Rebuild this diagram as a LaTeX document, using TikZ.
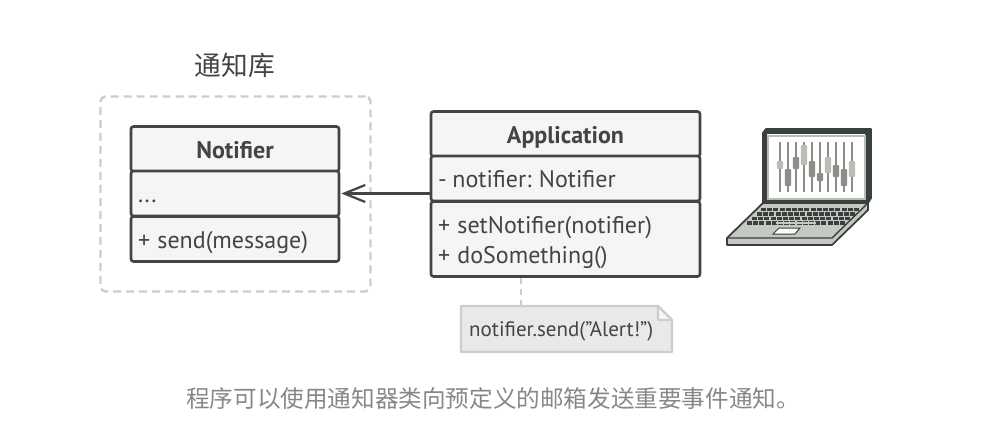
\documentclass[tikz,border=0pt]{standalone}
\usepackage{fontspec}
\setmainfont{PT Sans}[Ligatures=Common]
\newfontfamily\cjk{Noto Sans CJK SC}
\usetikzlibrary{arrows.meta}
\frenchspacing

\definecolor{ink}{HTML}{444444}
\definecolor{paper}{HTML}{F5F5F5}
\definecolor{soft}{HTML}{CCCCCC}
\definecolor{notefill}{HTML}{E9E9E9}
\definecolor{lapink}{HTML}{3A403E}
\definecolor{lapbody}{HTML}{C6C9C2}
\definecolor{slidedark}{HTML}{8A8D88}
\definecolor{slidelight}{HTML}{B9BDB5}

\newcommand{\linestrut}{\rule[-6pt]{0pt}{30pt}}

\tikzset{
    field/.style={draw=ink, fill=paper, line width=2.6pt, rounded corners=2.5pt, text=ink,
        font=\fontsize{24}{30}\selectfont, inner xsep=7pt, inner ysep=0pt, text width=#1,
        minimum height=45pt, align=left, execute at begin node={\spaceskip=7.3pt\relax\linestrut}},
    title/.style={field=#1, align=center, font=\fontsize{24}{30}\selectfont\bfseries},
    laptop/.style={draw=lapink, line width=1.8pt, line join=round}
}

\begin{document}
\begin{tikzpicture}[x=1pt, y=-1pt]
    \useasboundingbox (0,0) rectangle (982,436);

    % library frame
    \node[text=ink, font=\cjk\fontsize{26.7}{30}\selectfont] (libname) at (235,65) {通知库};
    \node[draw=soft, dashed, dash pattern=on 8pt off 5pt, line width=2.4pt, rounded corners=5pt,
        minimum width=270pt, minimum height=195pt] (libframe) at (235.5,194) {};

    % notifier class
    \node[title=194pt] (notifiername) at (235,149) {Notifier};
    \node[field=194pt] (notifierfield) at (235,193.5) {...};
    \node[field=194pt] (notifiermethods) at (235,239) {+ send(message)};

    % application class
    \node[title=255pt] (appname) at (565.5,134) {Application};
    \node[field=255pt] (appfield) at (565.5,178.5) {-\kern-1.5pt{} notifier: Notifier};
    \node[field=255pt, minimum height=75pt] (appmethods) at (565.5,239) {+ setNotifier(notifier)\\\linestrut + doSomething()};

    \draw[-{Straight Barb[length=21pt, width=17pt, line width=2.2pt]}, draw=ink, line width=2.2pt, shorten >=1pt]
        (appfield.west |- notifierfield.east) -- (notifierfield.east);

    % note
    \draw[draw=soft, fill=notefill, line width=2.4pt, line join=round]
        (461,306) -- (658,306) -- (672,320) -- (672,352) -- (461,352) -- cycle;
    \draw[draw=soft, fill=paper, line width=2.4pt, line join=round]
        (658,306) -- (658,320) -- (672,320) -- cycle;
    \node[text=ink, font=\fontsize{21}{24}\selectfont, anchor=west, inner sep=0pt] (notetext) at (469,331) {notifier.send("Alert!")};
    \coordinate (notetop) at (521,306);
    \draw[draw=soft, line width=2.4pt, dash pattern=on 6pt off 5pt] (notetop |- appmethods.south) -- (notetop);

    % caption
    \node[text=black!47, font=\cjk\fontsize{23.6}{28}\selectfont] (caption) at (493,399) {程序可以使用通知器类向预定义的邮箱发送重要事件通知。};

    % laptop lid
    \draw[laptop, fill=lapink] (763,203) -- (763,133) -- (766,129) -- (871,129) -- (871,198) -- (868,203) -- cycle;
    \draw[laptop, fill=white, draw=lapink] (766,133) rectangle (866,201);
    \draw[draw=slidelight, line width=1.2pt] (768,136) rectangle (865,199);
    \foreach \xpos/\ytop/\ybot/\shade in {780/161/169/slidelight, 788/169/186/slidedark, 796/157/169/slidedark,
        804/145/165/slidelight, 812/161/177/slidedark, 820/173/181/slidedark, 828/157/173/slidelight,
        836/165/177/slidedark, 844/169/186/slidedark, 852/161/177/slidelight} {
        \draw[draw=slidedark, line width=2.2pt] (\xpos,142) -- (\xpos,192);
        \fill[\shade, rounded corners=1pt] (\xpos-3.2,\ytop) rectangle (\xpos+3.2,\ybot);
    }

    % laptop base
    \draw[laptop, fill=lapbody] (763,203) -- (868,203) -- (868,210) -- (832,245) -- (727,245) -- (727,238) -- cycle;
    \draw[laptop, line width=1.4pt] (727,238) -- (832,238) -- (868,203);
    \foreach \rowy/\xleft/\xright in {209.5/761/859, 214/757/855, 218.5/752/850, 223/747/846} {
        \draw[draw=lapink, line width=3.4pt, dash pattern=on 5pt off 1.2pt] (\xleft,\rowy) -- (\xright,\rowy);
    }
    \draw[draw=lapbody, line width=1.6pt] (776,223) -- (816,223);
    \draw[draw=lapink, fill=white, line width=1pt] (779,228) -- (800,228) -- (795,234) -- (773,234) -- cycle;
\end{tikzpicture}
\end{document}
